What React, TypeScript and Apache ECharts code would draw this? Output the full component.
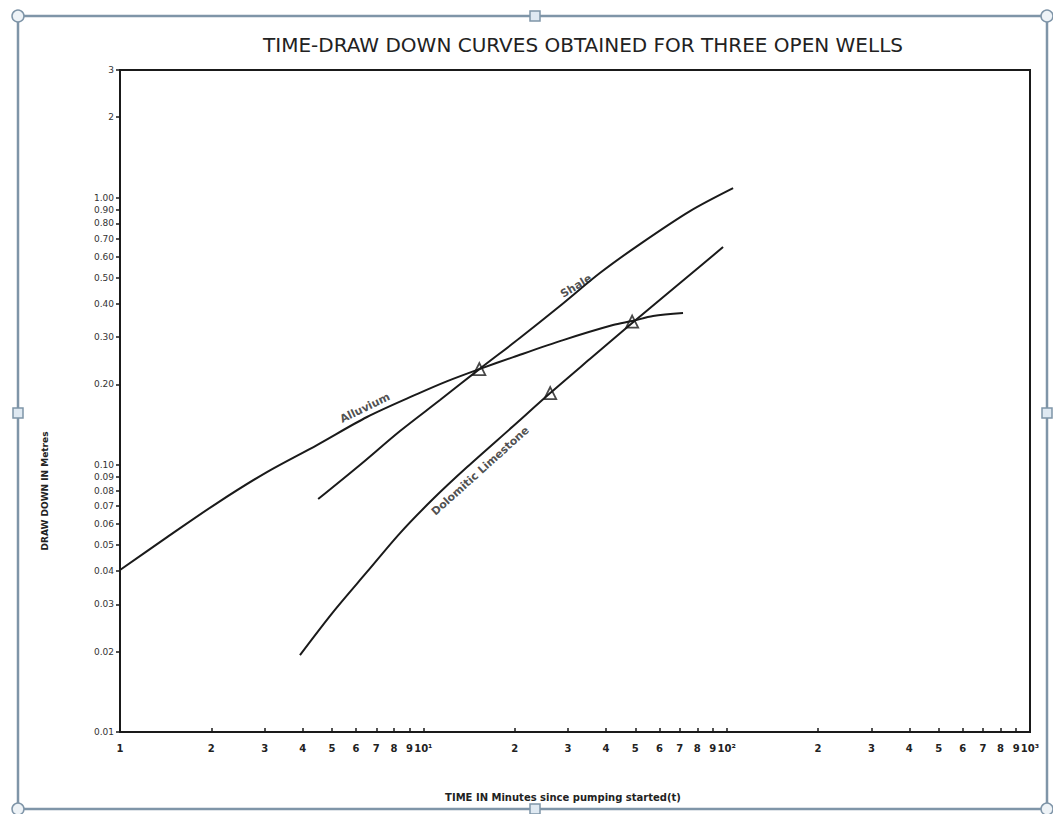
import React, { useEffect, useRef } from "react";
import * as echarts from "echarts";

const TITLE = "TIME-DRAW DOWN CURVES OBTAINED FOR THREE OPEN WELLS";
const X_NAME = "TIME IN Minutes since pumping started(t)";
const Y_NAME = "DRAW DOWN IN Metres";

const xTickValues = [1, 2, 3, 4, 5, 6, 7, 8, 9, 10, 20, 30, 40, 50, 60, 70, 80, 90, 100, 200, 300, 400, 500, 600, 700, 800, 900, 1000];
const xTickLabels = ["1", "2", "3", "4", "5", "6", "7", "8", "9", "10¹", "2", "3", "4", "5", "6", "7", "8", "9", "10²", "2", "3", "4", "5", "6", "7", "8", "9", "10³"];
const yTickValues = [0.01, 0.02, 0.03, 0.04, 0.05, 0.06, 0.07, 0.08, 0.09, 0.1, 0.2, 0.3, 0.4, 0.5, 0.6, 0.7, 0.8, 0.9, 1, 2, 3];
const yTickLabels = ["0.01", "0.02", "0.03", "0.04", "0.05", "0.06", "0.07", "0.08", "0.09", "0.10", "0.20", "0.30", "0.40", "0.50", "0.60", "0.70", "0.80", "0.90", "1.00", "2", "3"];

const alluviumTime = [1, 1.43, 2.09, 3.05, 4.46, 6.52, 9.53, 12.0, 15.3, 19.8, 28.9, 42.2, 48.8, 57.2, 71.8];
const alluviumDrawdown = [0.0404, 0.0536, 0.0719, 0.0939, 0.1185, 0.1509, 0.1838, 0.2056, 0.228, 0.2528, 0.2927, 0.3332, 0.3449, 0.36, 0.3694];

const shaleTime = [4.5, 6.18, 8.38, 11.35, 15.3, 20.8, 28.2, 38.2, 51.8, 75.7, 105];
const shaleDrawdown = [0.0744, 0.0998, 0.1337, 0.1746, 0.228, 0.2979, 0.3924, 0.5215, 0.6694, 0.8895, 1.084];

const dolomiteTime = [3.92, 5.04, 6.52, 8.38, 10.76, 13.94, 19.8, 26.2, 35.4, 48.8, 70.2, 97.3];
const dolomiteDrawdown = [0.0194, 0.0281, 0.0397, 0.0555, 0.0744, 0.098, 0.1396, 0.1854, 0.2485, 0.3389, 0.4785, 0.6523];

const observedTime = [15.3, 26.2, 48.8];
const observedDrawdown = [0.228, 0.1854, 0.3432];

const curveNames = ["Alluvium", "Shale", "Dolomitic Limestone"];
const curveLabelTime = [6.42, 31.9, 15.4];
const curveLabelDrawdown = [0.163, 0.466, 0.0947];
const curveLabelRotate = [26, 31, 42];

const FONT = "DejaVu Sans";
const INK = "#1a1a1a";
const FRAME = "#7f95a8";

function lookup(values: number[], labels: string[], v: number): string {
  for (let i = 0; i < values.length; i++) {
    if (Math.abs(values[i] - v) <= values[i] * 1e-6) return labels[i];
  }
  const p = Math.pow(10, v);
  for (let i = 0; i < values.length; i++) {
    if (Math.abs(values[i] - p) <= values[i] * 1e-6) return labels[i];
  }
  return "";
}

function pairs(xs: number[], ys: number[]) {
  return xs.map((x, i) => [x, ys[i]]);
}

export default function App() {
  const ref = useRef<HTMLDivElement>(null);
  useEffect(() => {
    if (!ref.current) return;
    const chart = echarts.init(ref.current, null, { renderer: "svg" });
    const lineStyle = { color: INK, width: 2 };
    const handle = (x: number, y: number, round: boolean) =>
      round
        ? { type: "circle", shape: { cx: x, cy: y, r: 6 }, style: { fill: "#eef3f7", stroke: FRAME, lineWidth: 1.5 }, z: 100 }
        : { type: "rect", shape: { x: x - 5, y: y - 5, width: 10, height: 10 }, style: { fill: "#dfe9f2", stroke: FRAME, lineWidth: 1.5 }, z: 100 };
    const curve = (name: string, xs: number[], ys: number[]) => ({
      name,
      type: "line",
      data: pairs(xs, ys),
      showSymbol: false,
      smooth: 0.3,
      lineStyle,
    });
    chart.setOption({
      animation: false,
      backgroundColor: "#ffffff",
      textStyle: { fontFamily: FONT },
      grid: {
        left: 120,
        right: 23,
        top: 70,
        bottom: 82,
        show: true,
        borderColor: INK,
        borderWidth: 2,
        backgroundColor: "transparent",
      },
      xAxis: {
        type: "log",
        logBase: 10,
        min: 1,
        max: 1000,
        axisLine: { show: true, lineStyle: { color: INK, width: 2 } },
        axisTick: { show: true, inside: true, length: 4, lineStyle: { color: INK, width: 1.5 }, customValues: xTickValues },
        axisLabel: {
          customValues: xTickValues,
          formatter: (v: number) => lookup(xTickValues, xTickLabels, v),
          color: "#222",
          fontSize: 10,
          fontWeight: "bold",
          margin: 11,
          fontFamily: FONT,
        },
        splitLine: { show: false },
        minorTick: { show: false },
      },
      yAxis: {
        type: "log",
        logBase: 10,
        min: 0.01,
        max: 3,
        axisLine: { show: true, lineStyle: { color: INK, width: 2 } },
        axisTick: { show: true, inside: false, length: 4, lineStyle: { color: INK, width: 1.5 }, customValues: yTickValues },
        axisLabel: {
          customValues: yTickValues,
          formatter: (v: number) => lookup(yTickValues, yTickLabels, v),
          color: "#333",
          fontSize: 9,
          margin: 6,
          fontFamily: FONT,
        },
        splitLine: { show: false },
        minorTick: { show: false },
      },
      series: [
        curve(curveNames[0], alluviumTime, alluviumDrawdown),
        curve(curveNames[1], shaleTime, shaleDrawdown),
        curve(curveNames[2], dolomiteTime, dolomiteDrawdown),
        {
          name: "Observed",
          type: "scatter",
          data: pairs(observedTime, observedDrawdown),
          symbol: "triangle",
          symbolSize: 12,
          itemStyle: { color: "rgba(255,255,255,0)", borderColor: INK, borderWidth: 1.8 },
          z: 5,
        },
        {
          name: "Curve labels",
          type: "scatter",
          symbolSize: 0,
          silent: true,
          data: curveNames.map((n, i) => ({
            name: n,
            value: [curveLabelTime[i], curveLabelDrawdown[i]],
            label: { rotate: curveLabelRotate[i] },
          })),
          label: {
            show: true,
            position: "inside",
            formatter: (p: any) => p.name,
            color: "#222",
            fontSize: 11,
            fontWeight: "bold",
            fontFamily: FONT,
          },
          z: 6,
        },
      ],
      graphic: [
        {
          type: "rect",
          shape: { x: 18, y: 16, width: 1029, height: 793 },
          style: { fill: "none", stroke: FRAME, lineWidth: 2.5 },
          z: 99,
          silent: true,
        },
        handle(18, 16, true),
        handle(1047, 16, true),
        handle(18, 809, true),
        handle(1047, 809, true),
        handle(535, 16, false),
        handle(535, 809, false),
        handle(18, 413, false),
        handle(1047, 413, false),
        {
          type: "text",
          x: 583,
          y: 45,
          style: { text: TITLE, fill: "#222", font: `20px '${FONT}'`, align: "center", verticalAlign: "middle" },
        },
        {
          type: "text",
          x: 563,
          y: 797,
          style: { text: X_NAME, fill: "#222", font: `bold 10px '${FONT}'`, align: "center", verticalAlign: "middle" },
        },
        {
          type: "text",
          x: 45,
          y: 491,
          rotation: Math.PI / 2,
          style: { text: Y_NAME, fill: "#222", font: `bold 9px '${FONT}'`, align: "center", verticalAlign: "middle" },
        },
      ],
    });
    return () => chart.dispose();
  }, []);
  return <div ref={ref} style={{ position: "fixed", left: 0, top: 0, width: 1053, height: 814 }} />;
}
